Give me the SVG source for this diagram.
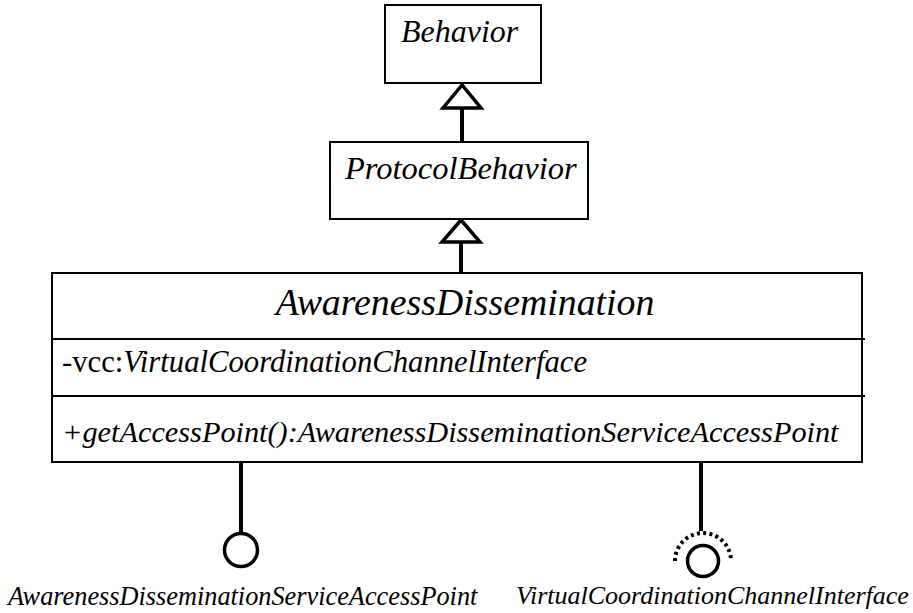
<svg xmlns="http://www.w3.org/2000/svg" width="913" height="613" viewBox="0 0 913 613">
<style>
.box{fill:#fff;stroke:#000;stroke-width:2}
.div{stroke:#000;stroke-width:2}
.t{font-family:'Liberation Serif','DejaVu Serif',serif;fill:#000}
.i{font-style:italic}
.ln{stroke:#000;stroke-width:4;fill:none}
.tri{fill:#fff;stroke:#000;stroke-width:3.5;stroke-linejoin:miter}
.ball{fill:#fff;stroke:#000;stroke-width:3.5}
</style>
<rect width="913" height="613" fill="#fff"/>
<g id="connectors">
<line class="ln" x1="462" y1="106" x2="462" y2="142"/>
<polygon class="tri" points="462,85 443,108 481,108"/>
<line class="ln" x1="461" y1="240" x2="461" y2="273"/>
<polygon class="tri" points="461,220 442,242 480,242"/>
<line class="ln" x1="241" y1="463" x2="241" y2="533"/>
<line class="ln" x1="701" y1="463" x2="701" y2="531"/>
</g>
<g id="Behavior">
<rect class="box" x="385" y="5" width="156" height="78"/>
<text class="t i" x="401" y="42" font-size="32">Behavior</text>
</g>
<g id="ProtocolBehavior">
<rect class="box" x="330" y="142" width="258" height="77"/>
<text class="t i" x="345" y="179" font-size="32.5">ProtocolBehavior</text>
</g>
<g id="AwarenessDissemination">
<rect class="box" x="52" y="273" width="810" height="189"/>
<line class="div" x1="52" y1="339" x2="865" y2="339"/>
<line class="div" x1="52" y1="396" x2="865" y2="396"/>
<text class="t i" x="465" y="315" font-size="37.8" text-anchor="middle">AwarenessDissemination</text>
<text class="t" x="62" y="372" font-size="30.7">-vcc:<tspan class="i">VirtualCoordinationChannelInterface</tspan></text>
<text class="t i" x="62" y="442" font-size="30.3">+getAccessPoint():AwarenessDisseminationServiceAccessPoint</text>
</g>
<g id="AwarenessDisseminationServiceAccessPoint">
<circle class="ball" cx="241" cy="550" r="16.5"/>
<text class="t i" x="8" y="605" font-size="26.3">AwarenessDisseminationServiceAccessPoint</text>
</g>
<g id="VirtualCoordinationChannelInterface">
<circle class="ball" cx="703" cy="561" r="15.5"/>
<path d="M 675 561 A 28 28 0 0 1 731 561" fill="none" stroke="#000" stroke-width="4" stroke-dasharray="3 3.3"/>
<text class="t i" x="516" y="604" font-size="26">VirtualCoordinationChannelInterface</text>
</g>
</svg>
